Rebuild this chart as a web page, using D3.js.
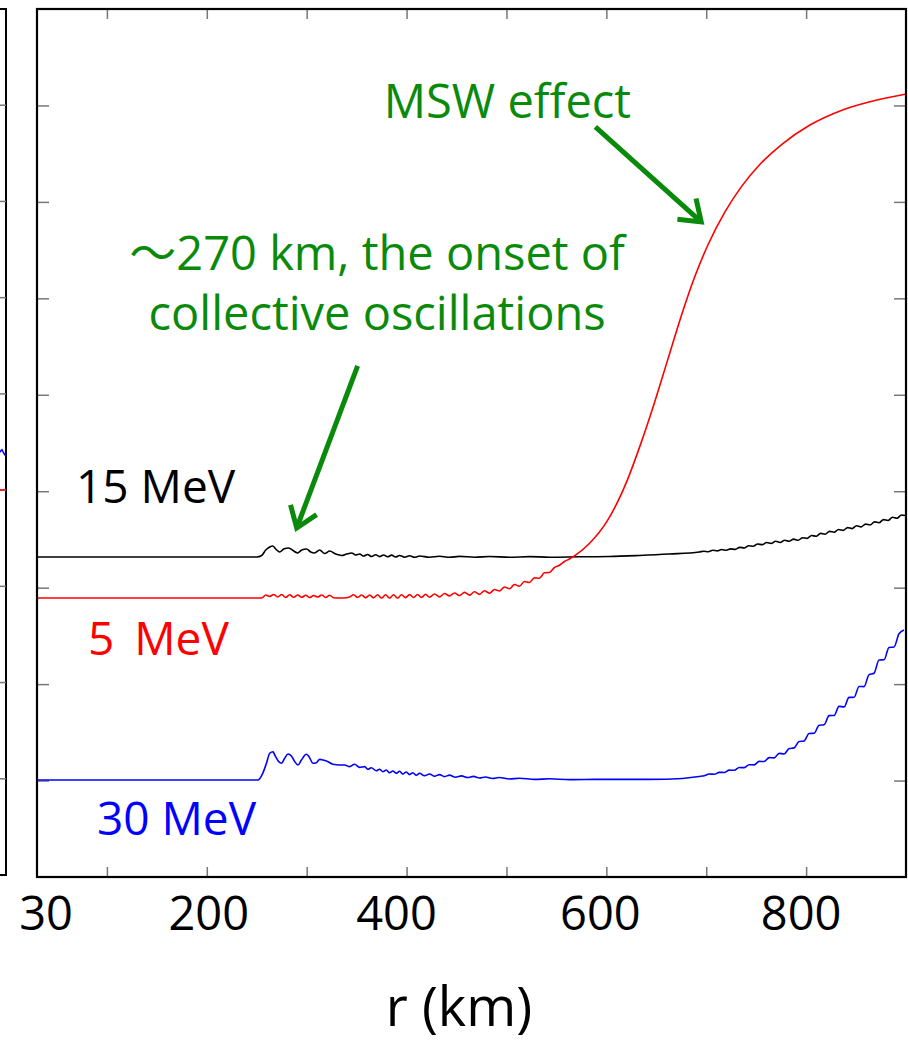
<!DOCTYPE html>
<html>
<head>
<meta charset="utf-8">
<script src="https://cdn.jsdelivr.net/npm/d3@7"></script>
<style>
  body { margin: 0; background: #fff; }
  svg { display: block; font-family: "Open Sans", sans-serif; }
</style>
</head>
<body>
<div id="chart"></div>
<script>
// ---- data (r in km, y in arbitrary units, one tick = 1) ----
const xTicks = [100, 200, 300, 400, 500, 600, 700, 800];
const xTickLabels = [30, 200, 400, 600, 800];
const yTicks = [1, 2, 3, 4, 5, 6, 7, 8];

const mev15 = [
  [30,3.318],[250,3.318],[255,3.334],[259,3.391],[263,3.422],[266,3.432],[269,3.401],[273,3.370],
  [277,3.401],[282,3.411],[287,3.380],[291,3.360],[295,3.391],[300,3.401],[304,3.370],[308,3.360],
  [313,3.391],[318,3.354],[323,3.380],[329,3.349],[335,3.334],[340,3.349],[345,3.360],[349,3.339],
  [353,3.349],[357,3.328],[361,3.344],[365,3.323],[369,3.341],[373,3.322],[377,3.339],[381,3.320],
  [385,3.337],[389,3.318],[393,3.334],[398,3.316],[403,3.331],[408,3.315],[413,3.328],[423,3.316],
  [433,3.326],[443,3.315],[453,3.324],[468,3.316],[483,3.323],[503,3.315],[523,3.322],[543,3.316],
  [573,3.320],[603,3.323],[633,3.334],[663,3.349],[693,3.370],
  [697.5,3.378],[702,3.373],[706.5,3.388],[711,3.381],[715.5,3.395],[720,3.388],[724.5,3.402],
  [729,3.397],[733.5,3.418],[738,3.412],[742.5,3.434],[747,3.429],[751.5,3.452],[756,3.446],
  [760.5,3.468],[765,3.459],[769.5,3.481],[774,3.469],[778.5,3.492],[783,3.481],[787.5,3.503],
  [792,3.491],[796.5,3.518],[801,3.511],[805.5,3.541],[810,3.533],[814.5,3.563],[819,3.554],
  [823.5,3.584],[828,3.575],[832.5,3.603],[837,3.594],[841.5,3.623],[846,3.612],[850.5,3.642],
  [855,3.630],[859.5,3.659],[864,3.650],[868.5,3.682],[873,3.673],[877.5,3.706],[882,3.697],
  [886.5,3.730],[891,3.720],[895.5,3.754],[899,3.748]
];

const mev5 = [
  [30,2.893],[255,2.893],[256,2.898],[259,2.924],[263,2.909],[267,2.929],[271,2.903],[275,2.929],
  [279,2.898],[283,2.926],[287,2.900],[291,2.924],[295,2.900],[299,2.922],[303,2.898],[307,2.919],
  [311,2.903],[315,2.924],[319,2.898],[323,2.922],[327,2.895],[331,2.893],[337,2.893],[343,2.903],
  [347,2.926],[351,2.898],[355,2.924],[359,2.895],[363,2.924],[367,2.895],[371,2.926],[375,2.893],
  [379,2.926],[383,2.893],[387,2.926],[391,2.893],[395,2.926],[399,2.897],[403,2.928],[407,2.898],
  [411,2.929],[415,2.899],[419,2.931],[423,2.901],[428,2.934],[433,2.904],[438,2.939],[443,2.914],
  [448,2.945],[453,2.918],[458,2.951],[463,2.923],[468,2.957],[473,2.930],[478,2.968],[483,2.942],
  [488,2.981],[493,2.966],[498,3.007],[503,2.988],[508,3.033],[513,3.015],[518,3.064],[523,3.054],
  [528,3.102],[533,3.098],[538,3.154],[543,3.157],[548,3.209],[553,3.233],[558,3.271],[563,3.297],
  [567,3.322],[583,3.458],[600.6,3.687],[620.9,4.113],[634.4,4.491],[648,4.913],[661.4,5.362],
  [675,5.818],[688.5,6.223],[702,6.561],[718.9,6.899],[735.8,7.166],[752.7,7.377],[776.4,7.602],
  [803.4,7.794],[837.2,7.956],[871,8.057],[899,8.116]
];

const mev30 = [
  [30,1.006],[251,1.006],[256,1.075],[259.7,1.179],[263,1.283],[266.3,1.299],[268,1.265],[271.3,1.206],
  [274.7,1.179],[278,1.231],[281.3,1.275],[284.7,1.255],[288,1.196],[291.3,1.161],[294.7,1.213],
  [299.7,1.272],[302.3,1.247],[306.3,1.179],[309.7,1.185],[313,1.220],[316.3,1.213],[319.7,1.203],
  [326.3,1.169],[333,1.161],[338,1.161],[343,1.144],[348,1.169],[353,1.137],[358,1.144],[361.3,1.117],
  [364.7,1.133],[369.7,1.102],[373,1.117],[376.3,1.092],[379.7,1.109],[383,1.081],[386.3,1.099],
  [389.7,1.075],[393,1.096],[396.3,1.068],[399.7,1.089],[403,1.061],[406.3,1.081],[409.7,1.055],
  [413,1.075],[418,1.050],[423,1.068],[428,1.045],[433,1.062],[438,1.041],[443,1.056],[449,1.035],
  [455,1.049],[461,1.031],[467,1.043],[473,1.027],[479,1.037],[486,1.021],[493,1.031],[503,1.016],
  [513,1.024],[528,1.012],[543,1.018],[563,1.010],[593,1.012],[633,1.012],[660,1.014],[693,1.042],
  [698,1.050],[703,1.068],[708,1.065],[713,1.085],[718,1.084],[723,1.108],[728,1.107],[733,1.135],
  [738,1.134],[743,1.164],[748,1.163],[753,1.199],[758,1.197],[763,1.238],[768,1.235],[773,1.282],
  [778,1.276],[783,1.332],[788,1.339],[793,1.405],[798,1.411],[803,1.488],[808,1.490],[813,1.573],
  [818,1.579],[823,1.673],[828,1.675],[833,1.769],[838,1.764],[843,1.862],[848,1.863],[853,1.976],
  [858,1.974],[863,2.098],[868,2.113],[873,2.250],[878,2.252],[883,2.380],[888,2.385],[893,2.522],
  [898,2.561]
];

// bits of the neighbouring panel that peek in at the left edge
const leftBlue = [[892,4.36],[894,4.40],[896,4.42],[898,4.38],[900,4.35]];
const leftRed = [[892,4.00],[896,4.00],[900,4.01]];

// ---- layout ----
const W = 908, H = 1043;
const plot = { left: 37, right: 906, top: 9, bottom: 877 };
const green = "#0a8a0a";

const svg = d3.select("#chart").append("svg")
  .attr("width", W).attr("height", H);

const x = d3.scaleLinear().domain([30, 900]).range([plot.left, plot.right]);
const y = d3.scaleLinear().domain([0, 9]).range([plot.bottom, plot.top]);

// left neighbour panel (same r scale, ends at x = 6)
const xl = d3.scaleLinear().domain([30, 900]).range([6 - 870, 6]);
const yl = d3.scaleLinear().domain([0, 9]).range([875, 9]);

const lp = svg.append("g");
lp.append("path")
  .attr("d", `M0,9H6V875H0`)
  .attr("fill", "none").attr("stroke", "#000").attr("stroke-width", 2);
lp.selectAll(".lt").data(yTicks).enter().append("line")
  .attr("x1", 0).attr("x2", 6)
  .attr("y1", d => yl(d)).attr("y2", d => yl(d))
  .attr("stroke", "#777").attr("stroke-width", 1.5);
const lline = d3.line().x(d => xl(d[0])).y(d => yl(d[1]));
lp.append("path").attr("d", lline(leftBlue)).attr("fill", "none").attr("stroke", "#0000ff").attr("stroke-width", 1.5);
lp.append("path").attr("d", lline(leftRed)).attr("fill", "none").attr("stroke", "#ff0000").attr("stroke-width", 1.5);

// ticks (inward, on all four sides)
function styleTicks(g) {
  g.select(".domain").remove();
  g.selectAll(".tick line").attr("stroke", "#777").attr("stroke-width", 1.5);
  g.selectAll(".tick text").remove();
}
svg.append("g").attr("transform", `translate(0,${plot.bottom})`)
  .call(d3.axisBottom(x).tickValues(xTicks).tickSize(-10)).call(styleTicks);
svg.append("g").attr("transform", `translate(0,${plot.top})`)
  .call(d3.axisTop(x).tickValues(xTicks).tickSize(-10)).call(styleTicks);
svg.append("g").attr("transform", `translate(${plot.left},0)`)
  .call(d3.axisLeft(y).tickValues(yTicks).tickSize(-12)).call(styleTicks);
svg.append("g").attr("transform", `translate(${plot.right},0)`)
  .call(d3.axisRight(y).tickValues(yTicks).tickSize(-12)).call(styleTicks);

// curves
svg.append("clipPath").attr("id", "clip").append("rect")
  .attr("x", plot.left).attr("y", plot.top)
  .attr("width", plot.right - plot.left).attr("height", plot.bottom - plot.top);

const line = d3.line()
  .x(d => x(d[0])).y(d => y(d[1]))
  .curve(d3.curveMonotoneX);

const curves = svg.append("g").attr("clip-path", "url(#clip)");
[[mev15, "#000000"], [mev5, "#ff0000"], [mev30, "#0000ff"]].forEach(([data, col]) => {
  curves.append("path")
    .attr("d", line(data))
    .attr("fill", "none")
    .attr("stroke", col)
    .attr("stroke-width", 1.6);
});

// frame
svg.append("rect")
  .attr("x", plot.left).attr("y", plot.top)
  .attr("width", plot.right - plot.left).attr("height", plot.bottom - plot.top)
  .attr("fill", "none").attr("stroke", "#000").attr("stroke-width", 2.2);

// x tick labels (hand placed in the original, small nudges)
const labelNudge = { 30: 9, 200: 2, 400: -10, 600: -6, 800: -5 };
svg.selectAll(".xl").data(xTickLabels).enter().append("text")
  .attr("x", d => x(d) + labelNudge[d])
  .attr("y", 930)
  .attr("text-anchor", "middle")
  .attr("font-size", 47)
  .text(d => d);

svg.append("text")
  .attr("x", 459).attr("y", 1026)
  .attr("text-anchor", "middle")
  .attr("font-size", 54)
  .text("r (km)");

// series labels (energy, unit, gap before unit)
const seriesLabels = [
  { num: "15", unit: "MeV", gap: 0, r: 69, v: 3.878, col: "#000000" },
  { num: "5", unit: "MeV", gap: 8, r: 81, v: 2.302, col: "#ff0000" },
  { num: "30", unit: "MeV", gap: 0, r: 90, v: 0.436, col: "#0000ff" }
];
const sl = svg.selectAll(".sl").data(seriesLabels).enter().append("text")
  .attr("x", d => x(d.r)).attr("y", d => y(d.v))
  .attr("font-size", 46)
  .attr("fill", d => d.col);
sl.append("tspan").text(d => d.num + " ");
sl.append("tspan").attr("dx", d => d.gap).text(d => d.unit);

// annotations
function arrow(r0, v0, r1, v1) {
  const x0 = x(r0), y0 = y(v0), x1 = x(r1), y1 = y(v1);
  const a = Math.atan2(y1 - y0, x1 - x0);
  const L = 24, t = 0.62;
  const g = svg.append("g")
    .attr("stroke", green).attr("stroke-width", 5).attr("fill", "none");
  g.append("line").attr("x1", x0).attr("y1", y0).attr("x2", x1 - 2 * Math.cos(a)).attr("y2", y1 - 2 * Math.sin(a));
  g.append("path")
    .attr("stroke-linejoin", "miter")
    .attr("d", `M${x1 - L * Math.cos(a - t)},${y1 - L * Math.sin(a - t)}L${x1},${y1}L${x1 - L * Math.cos(a + t)},${y1 - L * Math.sin(a + t)}`);
}
arrow(589, 7.777, 695, 6.792);
arrow(351, 5.299, 290, 3.619);

svg.append("text")
  .attr("x", x(501)).attr("y", y(7.87))
  .attr("text-anchor", "middle").attr("font-size", 47).attr("fill", green)
  .text("MSW effect");

const t1 = svg.append("text")
  .attr("x", x(370.5)).attr("y", y(6.294))
  .attr("text-anchor", "middle").attr("font-size", 47).attr("fill", green);
t1.append("tspan").attr("font-family", "'Noto Sans CJK JP'").text("～");
t1.append("tspan").text("270 km, the onset of");

svg.append("text")
  .attr("x", x(370.5)).attr("y", y(5.672))
  .attr("text-anchor", "middle").attr("font-size", 47).attr("fill", green)
  .text("collective oscillations");
</script>
</body>
</html>
